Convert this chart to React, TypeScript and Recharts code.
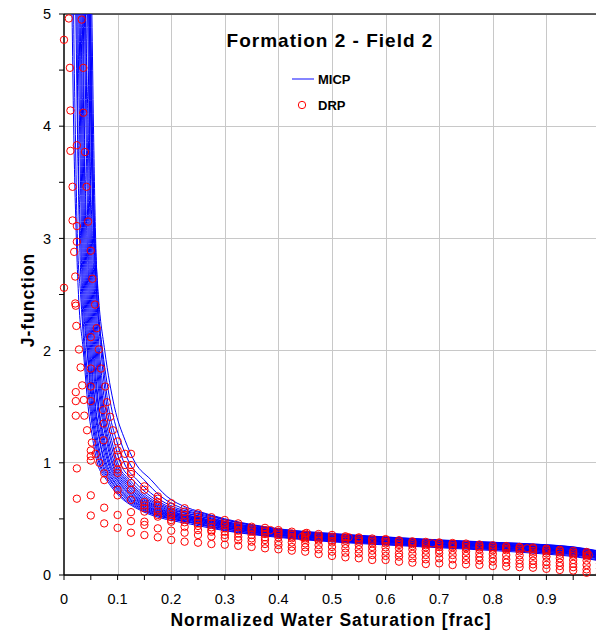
import React from 'react';
import {
  ComposedChart,
  Line,
  Scatter,
  XAxis,
  YAxis,
  CartesianGrid,
  ReferenceLine,
  Legend,
} from 'recharts';

const FONT = '"Liberation Sans", Arial, Helvetica, sans-serif';

// ---- MICP capillary-pressure curves (J-function vs normalized Sw) ----
// Steep part: Sw at which each curve crosses these J levels.
const J_LEVELS = [5.6, 5, 4, 3, 2.5, 2, 1.5, 1.2, 1.0, 0.85, 0.7, 0.6];
// Flat part: J of each curve at these Sw values.
const TAIL_SW = [0.25, 0.3, 0.4, 0.5, 0.6, 0.7, 0.8, 0.9, 0.95, 1.0];

const MICP_STEEP_SW: number[][] = [
  [0.013, 0.015, 0.018, 0.023, 0.027, 0.036, 0.045, 0.054, 0.062, 0.079, 0.104, 0.133],
  [0.017, 0.018, 0.021, 0.025, 0.031, 0.038, 0.048, 0.057, 0.065, 0.082, 0.107, 0.137],
  [0.019, 0.022, 0.025, 0.029, 0.033, 0.04, 0.05, 0.059, 0.067, 0.085, 0.111, 0.141],
  [0.022, 0.024, 0.026, 0.031, 0.035, 0.043, 0.052, 0.061, 0.07, 0.087, 0.114, 0.145],
  [0.025, 0.026, 0.029, 0.033, 0.037, 0.044, 0.054, 0.063, 0.072, 0.09, 0.117, 0.149],
  [0.026, 0.028, 0.031, 0.035, 0.039, 0.046, 0.056, 0.066, 0.075, 0.092, 0.12, 0.152],
  [0.028, 0.03, 0.033, 0.037, 0.041, 0.048, 0.058, 0.067, 0.077, 0.095, 0.124, 0.156],
  [0.031, 0.032, 0.035, 0.039, 0.043, 0.05, 0.059, 0.07, 0.079, 0.098, 0.127, 0.16],
  [0.032, 0.034, 0.037, 0.041, 0.045, 0.052, 0.062, 0.072, 0.082, 0.1, 0.13, 0.163],
  [0.034, 0.036, 0.038, 0.043, 0.047, 0.054, 0.064, 0.074, 0.084, 0.103, 0.133, 0.167],
  [0.036, 0.038, 0.041, 0.045, 0.049, 0.056, 0.065, 0.076, 0.086, 0.106, 0.136, 0.171],
  [0.038, 0.04, 0.043, 0.047, 0.051, 0.058, 0.068, 0.079, 0.089, 0.109, 0.14, 0.175],
  [0.04, 0.041, 0.045, 0.049, 0.053, 0.06, 0.07, 0.081, 0.091, 0.112, 0.143, 0.179],
  [0.042, 0.044, 0.047, 0.051, 0.055, 0.062, 0.072, 0.083, 0.094, 0.115, 0.147, 0.184],
  [0.044, 0.046, 0.048, 0.053, 0.057, 0.064, 0.074, 0.086, 0.097, 0.118, 0.151, 0.189],
  [0.046, 0.048, 0.051, 0.055, 0.059, 0.066, 0.077, 0.089, 0.1, 0.122, 0.156, 0.194],
  [0.048, 0.05, 0.053, 0.057, 0.061, 0.069, 0.08, 0.093, 0.105, 0.128, 0.162, 0.2],
  [0.05, 0.052, 0.055, 0.059, 0.063, 0.071, 0.083, 0.098, 0.112, 0.136, 0.17, 0.208],
  [0.045, 0.047, 0.05, 0.056, 0.061, 0.072, 0.088, 0.105, 0.122, 0.149, 0.181, 0.218],
  [0.047, 0.049, 0.052, 0.058, 0.064, 0.076, 0.094, 0.114, 0.133, 0.162, 0.192, 0.23],
];

const MICP_TAIL_J: number[][] = [
  [0.44, 0.395, 0.335, 0.295, 0.268, 0.243, 0.218, 0.186, 0.165, 0.125],
  [0.452, 0.401, 0.342, 0.302, 0.273, 0.25, 0.226, 0.196, 0.172, 0.131],
  [0.455, 0.41, 0.344, 0.306, 0.279, 0.252, 0.231, 0.201, 0.181, 0.14],
  [0.461, 0.413, 0.351, 0.31, 0.281, 0.258, 0.234, 0.208, 0.185, 0.147],
  [0.469, 0.421, 0.356, 0.314, 0.288, 0.261, 0.241, 0.211, 0.191, 0.151],
  [0.474, 0.426, 0.359, 0.319, 0.29, 0.267, 0.243, 0.217, 0.194, 0.156],
  [0.481, 0.429, 0.363, 0.321, 0.295, 0.27, 0.249, 0.221, 0.201, 0.159],
  [0.484, 0.436, 0.365, 0.326, 0.296, 0.274, 0.25, 0.224, 0.204, 0.166],
  [0.492, 0.44, 0.371, 0.328, 0.301, 0.276, 0.256, 0.229, 0.209, 0.169],
  [0.494, 0.446, 0.372, 0.333, 0.302, 0.281, 0.257, 0.232, 0.211, 0.173],
  [0.501, 0.449, 0.378, 0.334, 0.308, 0.282, 0.262, 0.237, 0.217, 0.175],
  [0.504, 0.456, 0.38, 0.339, 0.309, 0.288, 0.264, 0.239, 0.219, 0.181],
  [0.511, 0.459, 0.385, 0.341, 0.315, 0.289, 0.269, 0.245, 0.225, 0.183],
  [0.514, 0.466, 0.387, 0.347, 0.317, 0.294, 0.271, 0.247, 0.227, 0.189],
  [0.526, 0.469, 0.393, 0.349, 0.323, 0.296, 0.276, 0.253, 0.233, 0.191],
  [0.529, 0.476, 0.395, 0.355, 0.325, 0.301, 0.278, 0.255, 0.236, 0.197],
  [0.541, 0.479, 0.401, 0.357, 0.331, 0.303, 0.284, 0.261, 0.241, 0.199],
  [0.549, 0.491, 0.404, 0.363, 0.333, 0.309, 0.286, 0.264, 0.244, 0.206],
  [0.561, 0.494, 0.411, 0.365, 0.338, 0.31, 0.291, 0.269, 0.249, 0.209],
  [0.569, 0.501, 0.412, 0.371, 0.339, 0.313, 0.292, 0.27, 0.251, 0.213],
];

// ---- DRP points ----
// Low-saturation points as [Sw, J] pairs.
const DRP_LOW: [number, number][] = [
  [0.0, 4.77], [0.009, 4.96], [0.033, 4.95], [0.011, 4.52], [0.036, 4.52],
  [0.012, 4.14], [0.036, 4.12], [0.024, 3.83], [0.012, 3.78], [0.039, 3.77],
  [0.016, 3.46], [0.042, 3.46], [0.016, 3.16], [0.024, 3.11], [0.045, 3.15],
  [0.024, 2.97], [0.019, 2.88], [0.05, 2.89], [0.021, 2.66], [0.053, 2.64],
  [0.0, 2.56], [0.021, 2.42], [0.022, 2.4], [0.058, 2.41], [0.023, 2.22],
  [0.061, 2.2], [0.05, 2.12], [0.028, 2.01], [0.065, 2.01], [0.031, 1.85],
  [0.05, 1.84], [0.069, 1.84], [0.034, 1.69], [0.05, 1.68], [0.077, 1.68],
  [0.022, 1.63], [0.022, 1.55], [0.037, 1.56], [0.05, 1.55], [0.08, 1.54],
  [0.073, 1.47], [0.022, 1.42], [0.038, 1.42], [0.086, 1.41], [0.074, 1.35],
  [0.043, 1.29], [0.091, 1.29], [0.074, 1.2], [0.052, 1.18], [0.05, 1.11],
  [0.059, 1.08], [0.05, 1.06], [0.05, 1.02], [0.066, 1.0], [0.024, 0.95],
  [0.075, 0.906], [0.075, 0.846], [0.024, 0.68], [0.05, 0.71], [0.075, 0.6],
  [0.05, 0.53], [0.075, 0.46], [0.114, 1.08], [0.114, 0.98],
];

// Regularly spaced DRP saturations and the J values found at each.
const DRP_SW = [
  0.1, 0.125, 0.15, 0.175, 0.2, 0.225, 0.25, 0.275, 0.3, 0.325, 0.35, 0.375,
  0.4, 0.425, 0.45, 0.475, 0.5, 0.525, 0.55, 0.575, 0.6, 0.625, 0.65, 0.675,
  0.7, 0.725, 0.75, 0.775, 0.8, 0.825, 0.85, 0.875, 0.9, 0.925, 0.95, 0.975, 1.0,
];

const DRP_J: number[][] = [
  [1.19, 1.11, 1.07, 1.0, 0.94, 0.91, 0.76, 0.71, 0.535, 0.42],
  [1.08, 0.98, 0.92, 0.9, 0.82, 0.76, 0.67, 0.56, 0.48, 0.377],
  [0.79, 0.76, 0.65, 0.62, 0.595, 0.565, 0.475, 0.446, 0.356],
  [0.7, 0.68, 0.65, 0.62, 0.565, 0.535, 0.52, 0.416, 0.336],
  [0.64, 0.61, 0.565, 0.535, 0.515, 0.49, 0.475, 0.395, 0.312],
  [0.595, 0.565, 0.535, 0.5, 0.47, 0.43, 0.377, 0.297],
  [0.55, 0.52, 0.49, 0.46, 0.437, 0.4, 0.357, 0.288],
  [0.515, 0.49, 0.46, 0.425, 0.4, 0.386, 0.343, 0.276],
  [0.49, 0.46, 0.445, 0.416, 0.386, 0.357, 0.33, 0.27],
  [0.46, 0.44, 0.425, 0.395, 0.37, 0.34, 0.31, 0.26],
  [0.43, 0.416, 0.4, 0.386, 0.357, 0.327, 0.297, 0.25],
  [0.42, 0.4, 0.386, 0.365, 0.336, 0.312, 0.276, 0.238],
  [0.4, 0.385, 0.37, 0.357, 0.336, 0.297, 0.267, 0.229],
  [0.386, 0.37, 0.357, 0.34, 0.327, 0.29, 0.25, 0.217],
  [0.37, 0.357, 0.34, 0.327, 0.312, 0.282, 0.247, 0.208],
  [0.365, 0.35, 0.336, 0.318, 0.306, 0.267, 0.229, 0.187],
  [0.357, 0.34, 0.327, 0.305, 0.29, 0.25, 0.208, 0.17],
  [0.345, 0.336, 0.32, 0.306, 0.276, 0.238, 0.199, 0.158],
  [0.335, 0.327, 0.31, 0.297, 0.267, 0.229, 0.193, 0.149],
  [0.325, 0.312, 0.297, 0.282, 0.25, 0.217, 0.178, 0.134],
  [0.32, 0.312, 0.295, 0.282, 0.247, 0.208, 0.17, 0.134],
  [0.31, 0.297, 0.28, 0.267, 0.238, 0.193, 0.163, 0.119],
  [0.3, 0.29, 0.275, 0.258, 0.229, 0.187, 0.149, 0.11],
  [0.295, 0.282, 0.265, 0.247, 0.217, 0.178, 0.14, 0.098],
  [0.29, 0.282, 0.265, 0.25, 0.22, 0.193, 0.149, 0.104],
  [0.285, 0.276, 0.26, 0.247, 0.217, 0.178, 0.14, 0.089],
  [0.28, 0.267, 0.25, 0.238, 0.208, 0.17, 0.134, 0.095],
  [0.272, 0.258, 0.245, 0.229, 0.193, 0.16, 0.13, 0.09],
  [0.265, 0.25, 0.235, 0.22, 0.187, 0.149, 0.12, 0.08],
  [0.258, 0.247, 0.232, 0.22, 0.178, 0.14, 0.11, 0.075],
  [0.25, 0.24, 0.225, 0.21, 0.175, 0.134, 0.1, 0.07],
  [0.245, 0.235, 0.215, 0.2, 0.17, 0.128, 0.095, 0.065],
  [0.235, 0.225, 0.21, 0.193, 0.163, 0.119, 0.09, 0.055],
  [0.225, 0.215, 0.2, 0.18, 0.149, 0.11, 0.08, 0.045],
  [0.215, 0.2, 0.185, 0.17, 0.134, 0.1, 0.07, 0.04],
  [0.205, 0.193, 0.175, 0.163, 0.128, 0.089, 0.05, 0.02],
  [0.19, 0.175, 0.16, 0.13, 0.1, 0.06, 0.015],
];

// A few DRP points that fall between the regular saturations.
const DRP_EXTRA: [number, number][] = [
  [0.385, 0.4], [0.444, 0.34], [0.453, 0.375], [0.531, 0.336],
  [0.687, 0.282], [0.864, 0.238], [0.979, 0.178],
];

// ---- Axes ----
const X_TICKS = [
  0, 0.05, 0.1, 0.15, 0.2, 0.25, 0.3, 0.35, 0.4, 0.45, 0.5, 0.55, 0.6, 0.65,
  0.7, 0.75, 0.8, 0.85, 0.9, 0.95, 1,
];
const X_LABELS = ['0', '0.1', '0.2', '0.3', '0.4', '0.5', '0.6', '0.7', '0.8', '0.9'];
const Y_TICKS = [0, 0.5, 1, 1.5, 2, 2.5, 3, 3.5, 4, 4.5, 5];
const X_GRID = [0.1, 0.2, 0.3, 0.4, 0.5, 0.6, 0.7, 0.8, 0.9];
const Y_GRID = [1, 2, 3, 4];

const micpCurves = MICP_STEEP_SW.map((sws, i) => [
  ...sws.map((sw, k) => ({ sw, j: J_LEVELS[k] })),
  ...TAIL_SW.map((sw, k) => ({ sw, j: MICP_TAIL_J[i][k] })),
]);

const drpPoints = [
  ...DRP_LOW.map(([sw, j]) => ({ sw, j })),
  ...DRP_SW.flatMap((sw, c) => DRP_J[c].map((j) => ({ sw, j }))),
  ...DRP_EXTRA.map(([sw, j]) => ({ sw, j })),
];

const formatX = (v: number) => {
  const i = Math.round(v * 10);
  return Math.abs(v * 10 - i) < 1e-6 && i < 10 ? X_LABELS[i] : '';
};
const formatY = (v: number) => (Number.isInteger(v) ? String(v) : '');

const Ring = (props: any) => {
  const { cx, cy } = props;
  if (cx == null || cy == null) return null;
  return <circle cx={cx} cy={cy} r={3.7} fill="none" stroke="#ff0000" strokeWidth={1} />;
};

// Vertical gridline drawn pixel-snapped so it stays a crisp 1px line.
const GridLineShape = (props: any) => {
  const { x1, x2, y1, y2 } = props;
  if ([x1, x2, y1, y2].some((v) => typeof v !== 'number' || Number.isNaN(v))) return null;
  const x = Math.round(x1) + 0.5;
  return (
    <line
      x1={x}
      x2={x}
      y1={y1}
      y2={y2}
      stroke={GRID_COLOR}
      strokeWidth={1}
      shapeRendering="crispEdges"
    />
  );
};

const tickStyle = { fill: '#000', fontSize: 14.5, fontFamily: FONT };
const GRID_COLOR = '#c8c8c8';

const LegendBox = () => (
  <div style={{ fontFamily: FONT, fontWeight: 700, fontSize: 13, color: '#000' }}>
    <div style={{ display: 'flex', alignItems: 'center', height: 26 }}>
      <svg width={28} height={10} style={{ display: 'block' }}>
        <line x1={2} x2={24} y1={5} y2={5} stroke="#5c5cff" strokeWidth={1.5} />
      </svg>
      <span>MICP</span>
    </div>
    <div style={{ display: 'flex', alignItems: 'center', height: 26 }}>
      <svg width={28} height={10} style={{ display: 'block' }}>
        <circle cx={12} cy={5} r={3.7} fill="none" stroke="#ff0000" strokeWidth={1} />
      </svg>
      <span>DRP</span>
    </div>
  </div>
);

export default function App() {
  return (
    <div
      style={{
        position: 'fixed',
        left: 0,
        top: 0,
        width: 596,
        height: 633,
        overflow: 'hidden',
        background: '#fff',
      }}
    >
      <ComposedChart
        width={610}
        height={633}
        margin={{ top: 14, right: 10, bottom: 28, left: 20 }}
      >
        {/* hidden axis that only carries the horizontal gridline positions */}
        <YAxis
          yAxisId="grid"
          type="number"
          domain={[0, 5]}
          allowDataOverflow
          ticks={Y_GRID}
          interval={0}
          hide
        />
        <CartesianGrid
          yAxisId="grid"
          vertical={false}
          stroke={GRID_COLOR}
          strokeWidth={1}
          shapeRendering="crispEdges"
        />
        {X_GRID.map((v) => (
          <ReferenceLine
            key={`vx-${v}`}
            x={v}
            stroke={GRID_COLOR}
            strokeWidth={1}
            shape={GridLineShape}
          />
        ))}
        <XAxis
          type="number"
          dataKey="sw"
          domain={[0, 1]}
          ticks={X_TICKS}
          interval={0}
          tickFormatter={formatX}
          height={30}
          tickSize={5}
          tickMargin={14}
          axisLine={{ stroke: '#000', strokeWidth: 1.5 }}
          tickLine={{ stroke: '#000', strokeWidth: 1 }}
          tick={tickStyle}
        />
        <YAxis
          type="number"
          dataKey="j"
          domain={[0, 5]}
          allowDataOverflow
          ticks={Y_TICKS}
          interval={0}
          tickFormatter={formatY}
          width={44}
          tickSize={5}
          tickMargin={8}
          axisLine={{ stroke: '#000', strokeWidth: 1.5 }}
          tickLine={{ stroke: '#000', strokeWidth: 1 }}
          tick={tickStyle}
        />
        <YAxis yAxisId="pts" type="number" dataKey="j" domain={[0, 5]} hide />
        <ReferenceLine y={5} stroke="#333" strokeWidth={1.5} />
        {micpCurves.map((d, i) => (
          <Line
            key={`micp-${i}`}
            data={d}
            dataKey="j"
            type="monotone"
            stroke="#0000ff"
            strokeWidth={1}
            dot={false}
            activeDot={false}
            legendType="none"
            isAnimationActive={false}
          />
        ))}
        <Scatter
          yAxisId="pts"
          data={drpPoints}
          dataKey="j"
          shape={Ring}
          legendType="none"
          isAnimationActive={false}
        />
        <Legend
          layout="vertical"
          align="center"
          verticalAlign="middle"
          content={() => <LegendBox />}
          wrapperStyle={{ left: 290, top: 66, width: 90 }}
        />
      </ComposedChart>

      <div
        style={{
          position: 'absolute',
          left: 130,
          top: 30,
          width: 400,
          textAlign: 'center',
          fontFamily: FONT,
          fontWeight: 700,
          fontSize: 19,
          lineHeight: '22px',
          letterSpacing: 1,
          color: '#000',
        }}
      >
        Formation 2 - Field 2
      </div>
      <div
        style={{
          position: 'absolute',
          left: 131,
          top: 609,
          width: 400,
          textAlign: 'center',
          fontFamily: FONT,
          fontWeight: 700,
          fontSize: 17.5,
          lineHeight: '22px',
          letterSpacing: 1,
          color: '#000',
        }}
      >
        Normalized Water Saturation [frac]
      </div>
      <div
        style={{
          position: 'absolute',
          left: -72,
          top: 289,
          width: 200,
          textAlign: 'center',
          fontFamily: FONT,
          fontWeight: 700,
          fontSize: 17.5,
          lineHeight: '22px',
          letterSpacing: 1,
          color: '#000',
          transform: 'rotate(-90deg)',
        }}
      >
        J-function
      </div>
    </div>
  );
}
